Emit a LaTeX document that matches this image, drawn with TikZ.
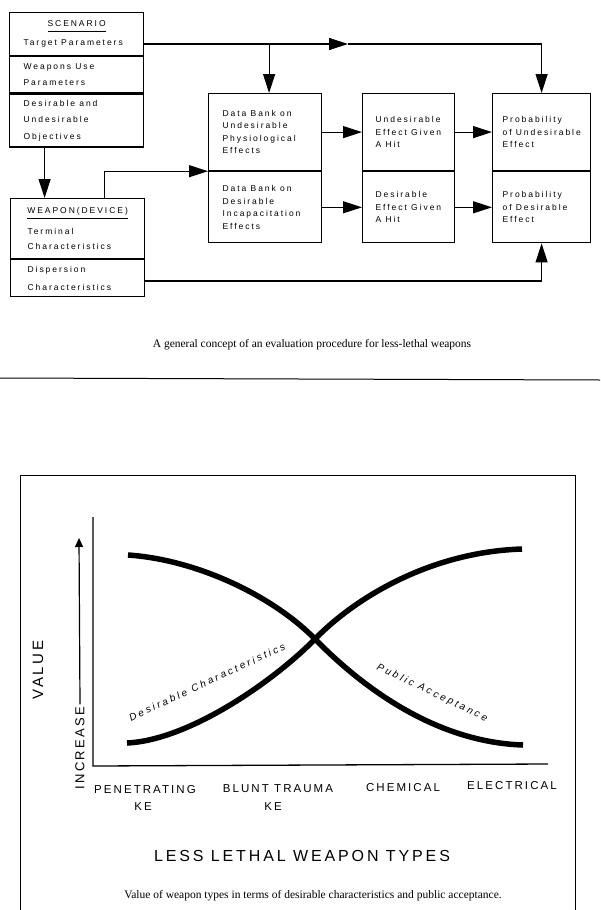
\documentclass[tikz,border=0pt]{standalone}
\usepackage{fontspec}
\usepackage{tikz}
\usetikzlibrary{calc, positioning}
\usetikzlibrary{arrows.meta}
\newfontfamily\flowfont[LetterSpace=23]{Liberation Sans}
\newfontfamily\axisfont[LetterSpace=18]{Liberation Sans}
\newfontfamily\curvefont[LetterSpace=26]{Liberation Sans}
\newfontfamily\capfont{Liberation Serif}
\newcommand{\boxtitle}[1]{\underline{#1\rule[-3.5pt]{0pt}{0pt}}}
\newcommand{\gap}{\kern0.5em\relax}

\begin{document}
\begin{tikzpicture}[x=1pt, y=-1pt,
		sect/.style={draw, line width=1.2pt, anchor=north west, align=left, inner ysep=0pt, font=\flowfont\fontsize{8.5}{12.5}\selectfont},
		flow/.style={-{Triangle[length=19pt, width=12pt]}, line width=1.2pt},
		frame/.style={line width=1pt},
		axis/.style={line width=1.3pt},
		curve/.style={line width=5.5pt},
		cat/.style={font=\axisfont\fontsize{11.5}{13}\selectfont, anchor=base, inner sep=0pt},
		caption/.style={font=\capfont\fontsize{11.5}{13}\selectfont}
		]
		\useasboundingbox (0,0) rectangle (600,910);

		% --- Premier schéma : procédure d'évaluation ---
		\node[sect, minimum width=134pt, minimum height=43pt, text width=106pt, inner xsep=14pt, font=\flowfont\fontsize{8.5}{16.5}\selectfont] (scnA) at (9,12) {\makebox[\hsize]{\boxtitle{SCENARIO}}\\[2.5pt]Target\gap Parameters};
		\node[sect, minimum width=134pt, minimum height=36pt, text width=106pt, inner xsep=14pt, font=\flowfont\fontsize{8.5}{16.5}\selectfont] (scnB) at (scnA.south west) {Weapons\gap Use\\Parameters};
		\node[sect, minimum width=134pt, minimum height=53pt, text width=106pt, inner xsep=14pt, font=\flowfont\fontsize{8.5}{16.5}\selectfont] (scnC) at (scnB.south west) {Desirable\gap and\\Undesirable\\Objectives};

		\node[sect, minimum width=134pt, minimum height=60pt, text width=100pt, inner xsep=17pt, font=\flowfont\fontsize{8.5}{15}\selectfont] (wpnA) at (10,198) {\makebox[\hsize]{\boxtitle{WEAPON(DEVICE)}}\\[6pt]Terminal\\Characteristics};
		\node[sect, minimum width=134pt, minimum height=37pt, text width=100pt, inner xsep=17pt, font=\flowfont\fontsize{8.5}{18}\selectfont] (wpnB) at (wpnA.south west) {Dispersion\\Characteristics};

		\node[sect, minimum width=113pt, minimum height=77pt, text width=85pt, inner xsep=14pt] (dbU) at (208,93) {Data\gap Bank\gap on\\Undesirable\\Physiological\\Effects};
		\node[sect, minimum width=113pt, minimum height=71pt, text width=85pt, inner xsep=14pt] (dbD) at (dbU.south west) {Data\gap Bank\gap on\\Desirable\\Incapacitation\\Effects};

		\node[sect, minimum width=92pt, minimum height=77pt, text width=66pt, inner xsep=13pt] (efU) at (362,93) {Undesirable\\Effect\gap Given\\A\gap Hit};
		\node[sect, minimum width=92pt, minimum height=71pt, text width=66pt, inner xsep=13pt] (efD) at (efU.south west) {Desirable\\Effect\gap Given\\A\gap Hit};

		\node[sect, minimum width=98pt, minimum height=77pt, text width=78pt, inner xsep=10pt] (prbU) at (492,93) {Probability\\of\gap Undesirable\\Effect};
		\node[sect, minimum width=98pt, minimum height=71pt, text width=78pt, inner xsep=10pt] (prbD) at (prbU.south west) {Probability\\of\gap Desirable\\Effect};

		% Liaisons
		\coordinate (tgt) at (143,44);
		\coordinate (mid) at (348,44);
		\coordinate (dsp) at (144,281);
		\draw[flow] (tgt) -- (mid);
		\draw[flow] (mid) -| (prbU.north);
		\draw[flow] (tgt -| dbU.north) ++(4,0) -- ([xshift=4pt]dbU.north);
		\draw[flow] ([xshift=-32pt]scnC.south) -- ([xshift=-32pt]scnC.south |- wpnA.north);
		\draw[flow] ([xshift=27pt]wpnA.north) |- (dbU.south west);
		\draw[flow] (dbU.east) -- (efU.west);
		\draw[flow] (dbD.east) -- (efD.west);
		\draw[flow] (efU.east) -- (prbU.west);
		\draw[flow] (efD.east) -- (prbD.west);
		\draw[flow] (dsp) -| (prbD.south);

		\node[caption] (capA) at (312,345) {A general concept of an evaluation procedure for less-lethal weapons};
		\draw[frame] (0,378) -- (600,380);

		% --- Deuxième schéma : valeur des types d'armes ---
		\draw[frame] (20,915) -- (20,475) -- (575,475) -- (575,915);

		\coordinate (org) at (93,766);
		\coordinate (ytop) at (93,517);
		\coordinate (xend) at (548,764);
		\draw[axis] (ytop) -- (org) -- (xend);

		\node[rotate=90, font=\axisfont\fontsize{15}{17}\selectfont] (val) at (38,670) {VALUE};
		\node[rotate=90, font=\axisfont\fontsize{13}{15}\selectfont, inner sep=2pt] (incr) at (80,748) {INCREASE};
		\coordinate (uptip) at (79,538);
		\draw[-{Triangle[length=9pt, width=8pt]}, line width=1.2pt] (incr.east) -- (uptip);

		% Courbes
		\draw[curve] (127,743) .. controls (190,740) and (275,680) .. (315,639) .. controls (355,598) and (430,552) .. (522,549);
		\draw[curve] (128,555) .. controls (200,560) and (275,598) .. (315,639) .. controls (355,680) and (430,742) .. (523,745);
		\node[rotate=25, font=\curvefont\itshape\fontsize{10}{12}\selectfont] (desc) at (207,682) {Desirable Characteristics};
		\node[rotate=-25.6, font=\curvefont\itshape\fontsize{10}{12}\selectfont] (pubc) at (432,693) {Public Acceptance};

		% Types d'armes
		\node[cat] (pen) at (145,793) {PENETRATING};
		\node[cat] (penKE) at (143,810) {KE};
		\node[cat] (blt) at (278,792) {BLUNT TRAUMA};
		\node[cat] (bltKE) at (273,810) {KE};
		\node[cat] (chm) at (403,791) {CHEMICAL};
		\node[cat] (ele) at (512,789) {ELECTRICAL};
		\node[font=\axisfont\fontsize{16}{18}\selectfont, anchor=base, inner sep=0pt] (types) at (302,861) {LESS LETHAL WEAPON TYPES};

		\node[caption] (capB) at (313,896) {Value of weapon types in terms of desirable characteristics and public acceptance.};

	\end{tikzpicture}
\end{document}
